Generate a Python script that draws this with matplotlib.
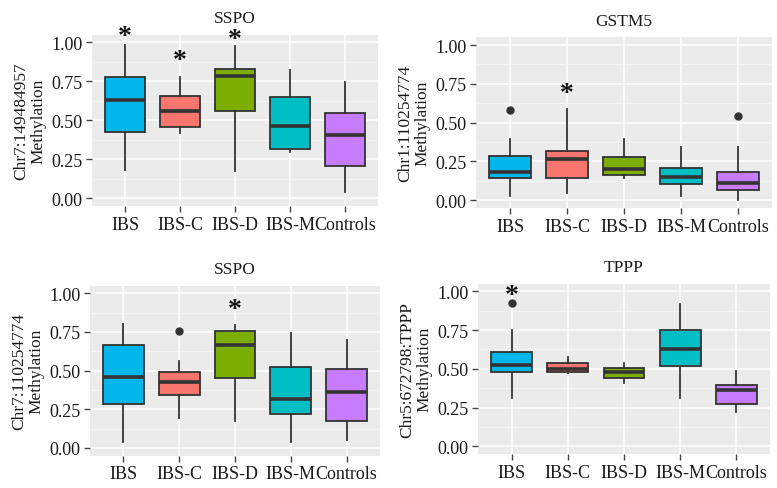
import numpy as np
import matplotlib
matplotlib.use('Agg')
import matplotlib.pyplot as plt

plt.rcParams['font.family'] = ['Liberation Serif', 'DejaVu Serif']

groups = ['IBS', 'IBS-C', 'IBS-D', 'IBS-M', 'Controls']
colors = ['#00B6EB', '#F8766D', '#7CAE00', '#00BFC4', '#C77CFF']

titles = ['SSPO', 'GSTM5', 'SSPO', 'TPPP']
ylabels = ['Chr7:149484957\nMethylation', 'Chr1:110254774\nMethylation',
           'Chr7:110254774\nMethylation', 'Chr5:672798:TPPP\nMethylation']

# box stats per panel: whisker low, Q1, median, Q3, whisker high
p1_low = [0.18, 0.42, 0.176, 0.298, 0.036]
p1_q1 = [0.426, 0.458, 0.559, 0.313, 0.208]
p1_med = [0.63, 0.557, 0.786, 0.46, 0.405]
p1_q3 = [0.779, 0.657, 0.829, 0.651, 0.544]
p1_high = [0.983, 0.78, 0.974, 0.824, 0.743]
p1_out = [[], [], [], [], []]
p1_star = [1.04, 0.88, 1.015, None, None]

p2_low = [0.028, 0.043, 0.14, 0.028, 0.002]
p2_q1 = [0.142, 0.14, 0.163, 0.101, 0.062]
p2_med = [0.178, 0.265, 0.2, 0.146, 0.11]
p2_q3 = [0.282, 0.318, 0.28, 0.209, 0.183]
p2_high = [0.394, 0.587, 0.394, 0.34, 0.34]
p2_out = [[0.583], [], [], [], [0.54]]
p2_star = [None, 0.69, None, None, None]

p3_low = [0.041, 0.192, 0.177, 0.041, 0.052]
p3_q1 = [0.282, 0.345, 0.453, 0.218, 0.172]
p3_med = [0.461, 0.429, 0.668, 0.317, 0.36]
p3_q3 = [0.668, 0.489, 0.759, 0.522, 0.511]
p3_high = [0.80, 0.565, 0.797, 0.741, 0.70]
p3_out = [[], [0.754], [], [], []]
p3_star = [None, None, 0.895, None, None]

p4_low = [0.31, 0.475, 0.406, 0.31, 0.219]
p4_q1 = [0.477, 0.477, 0.441, 0.516, 0.273]
p4_med = [0.527, 0.497, 0.477, 0.628, 0.363]
p4_q3 = [0.611, 0.538, 0.505, 0.753, 0.396]
p4_high = [0.751, 0.574, 0.538, 0.918, 0.484]
p4_out = [[0.925], [], [], [], []]
p4_star = [0.975, None, None, None, None]

panels = [
    (p1_low, p1_q1, p1_med, p1_q3, p1_high, p1_out, p1_star),
    (p2_low, p2_q1, p2_med, p2_q3, p2_high, p2_out, p2_star),
    (p3_low, p3_q1, p3_med, p3_q3, p3_high, p3_out, p3_star),
    (p4_low, p4_q1, p4_med, p4_q3, p4_high, p4_out, p4_star),
]

W, H = 777, 489
# panel rectangles in pixels: left, right, top, bottom
rects = [(92, 378, 35.5, 206.8), (476, 772, 38.3, 208.8),
         (90, 380, 286.6, 456.7), (478, 770, 284.5, 455)]

fig = plt.figure(figsize=(7.77, 4.89), dpi=100)

for k, (low, q1, med, q3, high, outs, stars) in enumerate(panels):
    l, r, t, b = rects[k]
    ax = fig.add_axes([l / W, 1 - b / H, (r - l) / W, (b - t) / H])
    ax.set_facecolor('#EBEBEB')
    for s in ax.spines.values():
        s.set_visible(False)

    stats = []
    for i in range(len(groups)):
        stats.append(dict(whislo=low[i], q1=q1[i], med=med[i], q3=q3[i],
                          whishi=high[i], fliers=outs[i], label=groups[i]))
    pos = np.arange(1, len(groups) + 1)
    bp = ax.bxp(stats, positions=pos, widths=0.73, patch_artist=True,
                showcaps=False, zorder=3,
                boxprops=dict(edgecolor='#333333', linewidth=1.3),
                whiskerprops=dict(color='#333333', linewidth=1.3),
                medianprops=dict(color='#333333', linewidth=2.6),
                flierprops=dict(marker='o', markerfacecolor='#333333',
                                markeredgecolor='#333333', markersize=5))
    for patch, c in zip(bp['boxes'], colors):
        patch.set_facecolor(c)

    for i, sv in enumerate(stars):
        if sv is not None:
            ax.text(pos[i], sv, '*', ha='center', va='center', fontsize=20,
                    fontweight='bold', color='#111111', zorder=4)

    ax.set_xlim(0.4, 5.6)
    ax.set_ylim(-0.05, 1.05)
    ax.set_yticks([0, 0.25, 0.5, 0.75, 1.0])
    ax.set_yticklabels(['0.00', '0.25', '0.50', '0.75', '1.00'])
    ax.set_yticks([0.125, 0.375, 0.625, 0.875], minor=True)
    ax.set_xticks(pos)
    ax.set_xticklabels(groups)
    ax.grid(True, which='major', color='white', linewidth=1.1, zorder=0)
    ax.grid(True, which='minor', axis='y', color='#F5F5F5', linewidth=0.6, zorder=0)
    ax.set_axisbelow(True)
    ax.tick_params(axis='both', which='major', color='#444444', length=4,
                   width=1, labelcolor='#1a1a1a')
    ax.tick_params(axis='x', labelsize=13, pad=3)
    ax.tick_params(axis='y', labelsize=13, pad=3)
    ax.tick_params(which='minor', length=0)
    ax.set_title(titles[k], fontsize=12.5, pad=9, color='#1a1a1a')
    ax.set_ylabel(ylabels[k], fontsize=12.5, color='#1a1a1a', labelpad=3,
                  linespacing=1.1)

fig.savefig('out.png', dpi=100, facecolor='white')
